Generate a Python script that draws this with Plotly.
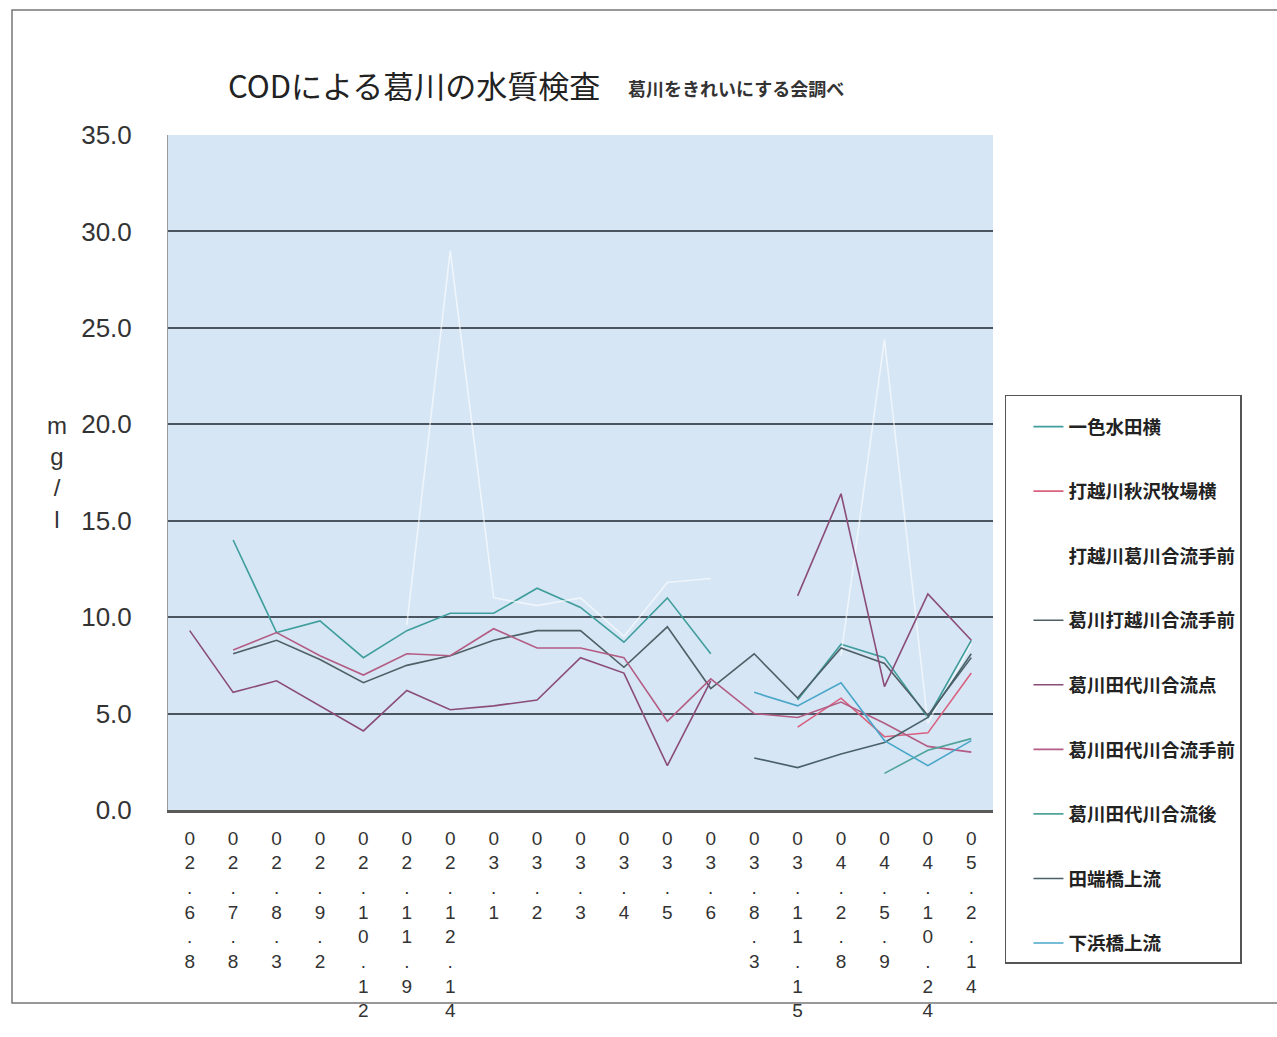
import plotly.graph_objects as go

categories = ["02.6.8", "02.7.8", "02.8.3", "02.9.2", "02.10.12", "02.11.9", "02.12.14",
              "03.1", "03.2", "03.3", "03.4", "03.5", "03.6", "03.8.3", "03.11.15",
              "04.2.8", "04.5.9", "04.10.24", "05.2.14"]

N = None
isshiki_suidenyoko = [N, 14.0, 9.2, 9.8, 7.9, 9.3, 10.2, 10.2, 11.5, 10.5, 8.7, 11.0, 8.1, N, 5.7, 8.6, 7.9, 4.8, 8.8]
uchikoshi_akisawa = [N, N, N, N, N, N, N, N, N, N, N, N, N, N, 4.3, 5.8, 3.8, 4.0, 7.1]
uchikoshi_kuzu_mae = [N, N, N, N, N, 9.6, 29.0, 11.0, 10.6, 11.0, 9.0, 11.8, 12.0, N, N, 8.0, 24.4, 4.5, 8.6]
kuzu_uchikoshi_mae = [N, 8.1, 8.8, 7.8, 6.6, 7.5, 8.0, 8.8, 9.3, 9.3, 7.4, 9.5, 6.3, 8.1, 5.8, 8.4, 7.6, 4.9, 7.9]
kuzu_tashiro_ten = [9.3, 6.1, 6.7, 5.4, 4.1, 6.2, 5.2, 5.4, 5.7, 7.9, 7.1, 2.3, 6.7, N, 11.1, 16.4, 6.4, 11.2, 8.8]
kuzu_tashiro_mae = [N, 8.3, 9.2, 8.0, 7.0, 8.1, 8.0, 9.4, 8.4, 8.4, 7.9, 4.6, 6.8, 5.0, 4.8, 5.6, 4.5, 3.3, 3.0]
kuzu_tashiro_go = [N, N, N, N, N, N, N, N, N, N, N, N, N, N, N, N, 1.9, 3.1, 3.7]
tabata_joryu = [N, N, N, N, N, N, N, N, N, N, N, N, N, 2.7, 2.2, 2.9, 3.5, 4.8, 8.1]
shimohama_joryu = [N, N, N, N, N, N, N, N, N, N, N, N, N, 6.1, 5.4, 6.6, 3.6, 2.3, 3.6]

series_names = ["一色水田横", "打越川秋沢牧場横", "打越川葛川合流手前", "葛川打越川合流手前",
                "葛川田代川合流点", "葛川田代川合流手前", "葛川田代川合流後", "田端橋上流", "下浜橋上流"]
series_values = [isshiki_suidenyoko, uchikoshi_akisawa, uchikoshi_kuzu_mae, kuzu_uchikoshi_mae,
                 kuzu_tashiro_ten, kuzu_tashiro_mae, kuzu_tashiro_go, tabata_joryu, shimohama_joryu]
series_colors = ["#3f9e9c", "#d9607f", "rgba(255,255,255,0.6)", "#4f5f66",
                 "#8a4c78", "#b35c84", "#4fa39a", "#49626a", "#4aa6c8"]

y_ticks = [0, 5, 10, 15, 20, 25, 30, 35]
y_grid = [5, 10, 15, 20, 25, 30]

def stacked(label):
    return "<br>".join(list(label))

fig = go.Figure()
for name, vals, col in zip(series_names, series_values, series_colors):
    fig.add_trace(go.Scatter(
        x=categories, y=vals, name=name, mode="lines",
        line=dict(color=col, width=1.6), connectgaps=False, legendgroup=name,
    ))

fig.update_layout(
    width=1277, height=1037,
    margin=dict(l=168, r=284, t=135, b=227),
    paper_bgcolor="white",
    plot_bgcolor="#d6e6f5",
    font=dict(family="Liberation Sans, Arial, sans-serif", color="#333333"),
    showlegend=True,
    legend=dict(
        x=1.0145, y=0.615, xanchor="left", yanchor="top",
        bgcolor="white", bordercolor="#555555", borderwidth=1.5,
        font=dict(family="Noto Sans CJK JP", size=18.5, color="#222222", weight="bold"),
        title=dict(text=" ", font=dict(size=9)),
        tracegroupgap=37.5, itemwidth=30, indentation=22,
    ),
    xaxis=dict(
        type="category", tickmode="array", tickvals=categories,
        ticktext=[stacked(c) for c in categories],
        range=[-0.5, len(categories) - 0.5],
        tickfont=dict(size=19, family="Liberation Sans Narrow, Liberation Sans", color="#333333"),
        showgrid=False, showline=True, linecolor="#5a5a5a", linewidth=2.5,
        ticks="", zeroline=False, fixedrange=True, ticklabelstandoff=9,
    ),
    yaxis=dict(
        range=[0, 35], tickmode="array", tickvals=y_ticks,
        ticktext=[f"{v:.1f}" for v in y_ticks],
        tickfont=dict(size=26, family="Liberation Sans", color="#333333"),
        showgrid=False, zeroline=False, showline=True, linecolor="#9a9a9a", linewidth=1,
        ticks="", ticklabelstandoff=30,
        minor=dict(tickmode="array", tickvals=y_grid, showgrid=True,
                   gridcolor="#4a5560", gridwidth=1.6, ticks=""),
    ),
)

fig.add_annotation(xref="paper", yref="paper", x=(226 - 168) / 825, y=(810 - 85) / 675,
                   xanchor="left", yanchor="middle", showarrow=False,
                   text="CODによる葛川の水質検査",
                   font=dict(family="Noto Sans CJK JP", size=31, color="#222222"))
fig.add_annotation(xref="paper", yref="paper", x=(626 - 168) / 825, y=(810 - 88) / 675,
                   xanchor="left", yanchor="middle", showarrow=False,
                   text="<b>葛川をきれいにする会調べ</b>",
                   font=dict(family="Noto Sans CJK JP", size=18, color="#333333"))
fig.add_annotation(xref="paper", yref="paper", x=(57 - 168) / 825, y=(810 - 472) / 675,
                   xanchor="center", yanchor="middle", showarrow=False,
                   text="m<br>g<br>/<br>l",
                   font=dict(family="Liberation Sans", size=24, color="#333333"))

# scanned page frame
fig.add_shape(type="rect", xref="paper", yref="paper",
              x0=(12 - 168) / 825, x1=(1290 - 168) / 825,
              y0=(810 - 1003) / 675, y1=(810 - 10) / 675,
              line=dict(color="#777777", width=1.5), fillcolor="rgba(0,0,0,0)", layer="below")

fig.write_html("out.html")
